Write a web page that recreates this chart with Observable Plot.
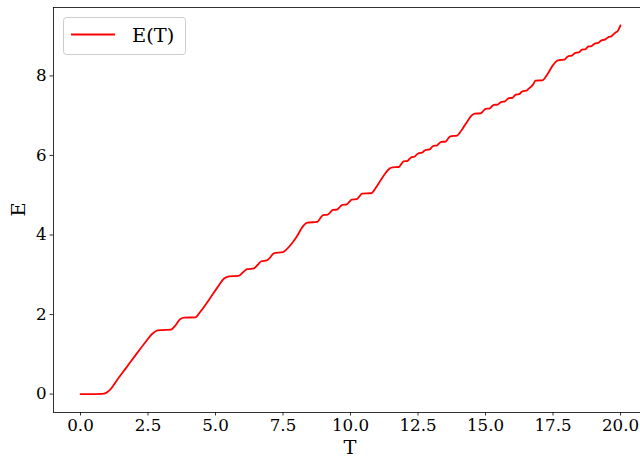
<!DOCTYPE html>
<html><head><meta charset="utf-8">
<script src="https://cdn.jsdelivr.net/npm/d3@7"></script>
<script src="https://cdn.jsdelivr.net/npm/@observablehq/plot@0.6"></script>
<style>
html,body{margin:0;padding:0;overflow:hidden;background:#fff;width:640px;height:458px}
#chart{width:640px;height:458px;overflow:hidden}
#chart svg{display:block;max-width:none !important;width:648px !important;height:458px !important}
</style></head><body><div id="chart"></div>
<script>
const T = [0, 0.5, 0.8, 0.95, 1.05, 1.18, 1.30, 1.67, 2.04, 2.41, 2.65, 2.85, 3.0, 3.35, 3.52, 3.70, 3.85, 4.25,
  4.44, 4.75, 5.06, 5.31, 5.5, 5.85, 6.0, 6.17, 6.42, 6.55, 6.70, 6.90, 7.03, 7.16, 7.5, 7.65, 7.84,
  8.0, 8.25, 8.4, 8.77, 8.88, 8.98, 9.16, 9.25, 9.35, 9.5, 9.6, 9.70, 9.86, 9.95, 10.05, 10.23, 10.33,
  10.43, 10.76, 10.95, 11.11, 11.3, 11.45, 11.55, 11.79, 11.88, 11.97, 12.1, 12.18, 12.27, 12.37, 12.45,
  12.53, 12.65, 12.72, 12.80, 12.93, 13.0, 13.07, 13.19, 13.28, 13.36, 13.52, 13.61, 13.70, 13.95, 14.1,
  14.3, 14.48, 14.6, 14.82, 14.92, 15.0, 15.15, 15.23, 15.31, 15.45, 15.53, 15.60, 15.72, 15.80, 15.87,
  16.0, 16.07, 16.13, 16.25, 16.32, 16.39, 16.52, 16.60, 16.67, 16.76, 16.85, 17.1, 17.3, 17.5, 17.65,
  17.75, 17.93, 18.0, 18.07, 18.2, 18.27, 18.33, 18.45, 18.52, 18.58, 18.70, 18.76, 18.82, 18.93, 19.0,
  19.07, 19.18, 19.25, 19.32, 19.42, 19.50, 19.57, 19.67, 19.75, 19.82, 19.90, 20.0];
const E = [0, 0, 0.003, 0.03, 0.08, 0.18, 0.30, 0.64, 0.98, 1.31, 1.51, 1.60, 1.61, 1.62, 1.73, 1.89, 1.92, 1.93,
  2.07, 2.36, 2.67, 2.90, 2.96, 2.97, 3.05, 3.14, 3.16, 3.24, 3.34, 3.36, 3.44, 3.54, 3.57, 3.65, 3.80,
  3.95, 4.23, 4.31, 4.33, 4.42, 4.50, 4.51, 4.57, 4.63, 4.64, 4.70, 4.76, 4.77, 4.83, 4.89, 4.90, 4.97,
  5.04, 5.05, 5.20, 5.37, 5.56, 5.67, 5.70, 5.71, 5.78, 5.85, 5.86, 5.91, 5.96, 5.97, 6.02,
  6.06, 6.07, 6.11, 6.14, 6.15, 6.20, 6.24, 6.25, 6.30, 6.34, 6.35, 6.42, 6.48, 6.50, 6.62,
  6.83, 7.00, 7.05, 7.06, 7.12, 7.17, 7.18, 7.23, 7.27, 7.28, 7.32, 7.35, 7.36, 7.41, 7.44,
  7.45, 7.50, 7.53, 7.54, 7.59, 7.62, 7.63, 7.68, 7.72, 7.78, 7.88, 7.89, 8.05, 8.27, 8.38,
  8.40, 8.41, 8.46, 8.50, 8.51, 8.55, 8.58, 8.59, 8.63, 8.66, 8.67, 8.71, 8.74, 8.75, 8.79,
  8.82, 8.83, 8.87, 8.90, 8.91, 8.95, 8.98, 9.00, 9.05, 9.09, 9.13, 9.27];
const xTicks = [0, 2.5, 5, 7.5, 10, 12.5, 15, 17.5, 20];
const yTicks = [0, 2, 4, 6, 8];
const xLabel = "T";
const yLabel = "E";
const seriesLabel = "E(T)";

const data = T.map((t, i) => ({T: t, E: E[i]}));
const font = "'DejaVu Serif', serif";

const svg = Plot.plot({
  width: 648, height: 458,
  marginLeft: 53, marginRight: 1, marginTop: 7, marginBottom: 46,
  style: {fontFamily: font, fontSize: "16.7px", color: "black", background: "white", overflow: "visible", maxWidth: "none"},
  x: {domain: [-1, 21]},
  y: {domain: [-0.463, 9.72]},
  marks: [
    Plot.line(data, {x: "T", y: "E", stroke: "#ff0000", strokeWidth: 1.8, curve: "monotone-x"}),
    Plot.axisX({ticks: xTicks, tickFormat: d => d.toFixed(1), tickSize: 3.5, tickPadding: 3.5, strokeWidth: 0.8, label: null, fontSize: "16.7px"}),
    Plot.axisY({ticks: yTicks, tickFormat: d => String(d), tickSize: 3.5, tickPadding: 3.5, strokeWidth: 0.8, label: null, fontSize: "16.7px"}),
    Plot.frame({stroke: "black", strokeWidth: 0.8})
  ]
});
svg.style.maxWidth = "none";
document.getElementById("chart").appendChild(svg);

const s = d3.select(svg);
s.append("text").attr("x", 350).attr("y", 454).attr("text-anchor", "middle")
  .attr("font-family", font).attr("font-size", "19.4px").attr("fill", "black").text(xLabel);
s.append("text").attr("transform", "translate(25,209.5) rotate(-90)").attr("text-anchor", "middle")
  .attr("font-family", font).attr("font-size", "19.4px").attr("fill", "black").text(yLabel);
const lg = s.append("g");
lg.append("rect").attr("x", 63.5).attr("y", 17.5).attr("width", 122).attr("height", 37).attr("rx", 3)
  .attr("fill", "white").attr("fill-opacity", 0.8).attr("stroke", "#cccccc").attr("stroke-width", 1);
lg.append("line").attr("x1", 71).attr("x2", 115).attr("y1", 34.5).attr("y2", 34.5)
  .attr("stroke", "#ff0000").attr("stroke-width", 1.8);
lg.append("text").attr("x", 132).attr("y", 41.5).attr("text-anchor", "start").attr("font-family", font).attr("font-size", "19.4px")
  .attr("fill", "black").text(seriesLabel);
</script></body></html>
